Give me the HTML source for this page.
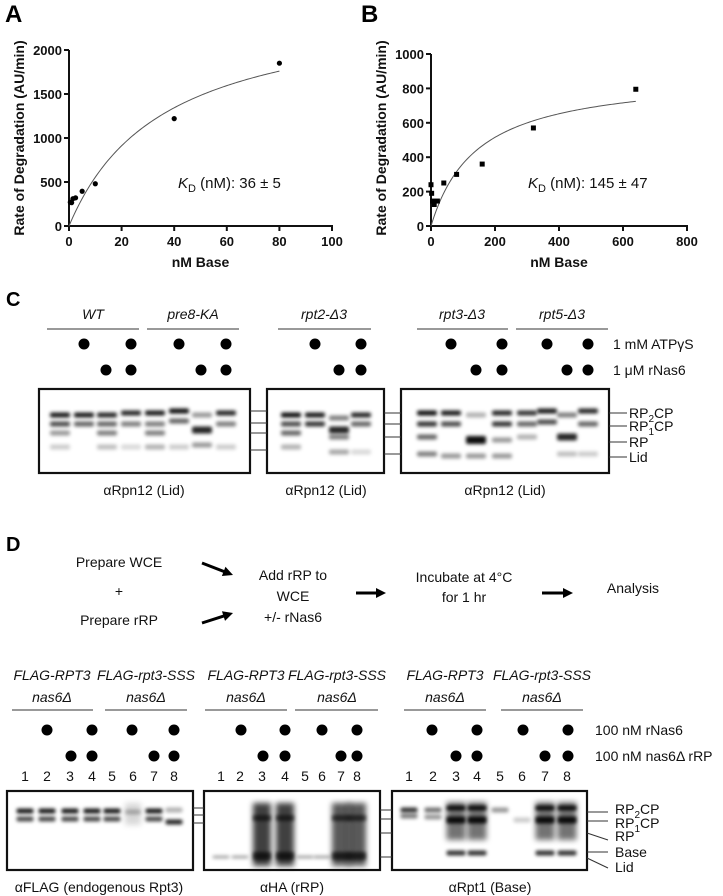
<!DOCTYPE html>
<html><head><meta charset="utf-8"><style>
html,body{margin:0;padding:0;background:#fff;}
svg{display:block;font-family:"Liberation Sans",sans-serif;}
.lbl{font-size:14px;fill:#111;}
.it{font-style:italic;}
.tick{font-size:13px;font-weight:bold;fill:#111;}
</style></head><body>
<svg id="fig" width="723" height="896" viewBox="0 0 723 896">
<defs>
<filter id="blur" filterUnits="userSpaceOnUse" x="0" y="0" width="723" height="896"><feGaussianBlur stdDeviation="1.9"/></filter>
<filter id="blur2" filterUnits="userSpaceOnUse" x="0" y="0" width="723" height="896"><feGaussianBlur stdDeviation="3"/></filter>
</defs>
<g id="panelA"></g>
<g id="panelB"></g>
<g id="panelC"></g>
<g id="panelD"></g>
</svg>
<script>
// ---- Panel A data ----
const aX = [0.5, 1, 1.5, 2.5, 5, 10, 40, 80];
const aY = [270, 265, 310, 320, 395, 480, 1220, 1850];
const aXTicks = [0, 20, 40, 60, 80, 100];
const aYTicks = [0, 500, 1000, 1500, 2000];
const aKD = 36;
const aBmax = 2552;
// ---- Panel B data ----
const bX = [0, 2, 5, 10, 20, 40, 80, 160, 320, 640];
const bY = [240, 190, 145, 125, 145, 250, 300, 360, 570, 795];
const bXTicks = [0, 200, 400, 600, 800];
const bYTicks = [0, 200, 400, 600, 800, 1000];
const bKD = 145;
const bBmax = 889;

const NS = "http://www.w3.org/2000/svg";
function mk(parent, tag, attrs, text){
  const e = document.createElementNS(NS, tag);
  for (const k in attrs) e.setAttribute(k, attrs[k]);
  if (text !== undefined) e.textContent = text;
  parent.appendChild(e);
  return e;
}

function drawChart(g, o){
  const sx = v => o.x0 + (v - o.xmin)/(o.xmax - o.xmin)*(o.x1 - o.x0);
  const sy = v => o.y0 - (v - o.ymin)/(o.ymax - o.ymin)*(o.y0 - o.y1);
  let t = mk(g,'text',{x:o.lx,y:22,'font-size':24,'font-weight':'bold',fill:'#000'},o.letter);
  
  
  let ax = mk(g,'line',{x1:o.x0,y1:o.y0,x2:o.x1+1,y2:o.y0,stroke:'#111','stroke-width':2});
  
  
  let ay = mk(g,'line',{x1:o.x0,y1:o.y0+1,x2:o.x0,y2:o.y1,stroke:'#111','stroke-width':2});
  
  
  o.xt.forEach(v=>{
    mk(g,'line',{x1:sx(v),y1:o.y0,x2:sx(v),y2:o.y0+5,stroke:'#111','stroke-width':2});
    let l = mk(g,'text',{x:sx(v),y:o.y0+20,'text-anchor':'middle',class:'tick'},String(v));
    
    
  });
  o.yt.forEach(v=>{
    mk(g,'line',{x1:o.x0-5,y1:sy(v),x2:o.x0,y2:sy(v),stroke:'#111','stroke-width':2});
    let l = mk(g,'text',{x:o.x0-7,y:sy(v)+5,'text-anchor':'end',class:'tick'},String(v));
    
    
  });
  let xt = mk(g,'text',{x:(o.x0+o.x1)/2,y:267,'text-anchor':'middle','font-size':14,'font-weight':'bold',fill:'#111'},'nM Base');
  
  
  let yt = mk(g,'text',{x:0,y:0,'text-anchor':'middle','font-size':14,'font-weight':'bold',fill:'#111',transform:`translate(${o.ytx},${o.ytc}) rotate(-90)`},'Rate of Degradation  (AU/min)');
  
  
  let d='';
  const xEnd = o.xs[o.xs.length-1];
  for(let i=0;i<=120;i++){
    const xv = xEnd*i/120;
    const yv = o.bmax*xv/(o.kd+xv);
    d += (i?'L':'M')+sx(xv).toFixed(2)+','+sy(yv).toFixed(2);
  }
  let c = mk(g,'path',{d:d,fill:'none',stroke:'#555','stroke-width':1});
  
  
  o.xs.forEach((xv,i)=>{
    let p;
    if(o.square){
      p = mk(g,'rect',{x:sx(xv)-2.5,y:sy(o.ys[i])-2.5,width:5,height:5,fill:'#000'});
    } else {
      p = mk(g,'circle',{cx:sx(xv),cy:sy(o.ys[i]),r:2.6,fill:'#000'});
    }
    
    
  });
  let kd = mk(g,'text',{x:o.kdx,y:188,'font-size':15,fill:'#111'});
  
  
  mk(kd,'tspan',{'font-style':'italic'},'K');
  mk(kd,'tspan',{'font-size':11,dy:4},'D');
  mk(kd,'tspan',{dy:-4},' (nM): '+o.kdtext);
}

drawChart(document.getElementById('panelA'),{letter:'A',lx:5,x0:69,x1:332,y0:226,y1:50,xmin:0,xmax:100,ymin:0,ymax:2000,
  xt:aXTicks,yt:aYTicks,xs:aX,ys:aY,kd:aKD,bmax:aBmax,kdx:178,kdtext:'36 ± 5',ytx:24,ytc:138,square:false});
drawChart(document.getElementById('panelB'),{letter:'B',lx:361,x0:431,x1:687,y0:226,y1:54,xmin:0,xmax:800,ymin:0,ymax:1000,
  xt:bXTicks,yt:bYTicks,xs:bX,ys:bY,kd:bKD,bmax:bBmax,kdx:528,kdtext:'145 ± 47',ytx:386,ytc:138,square:true});

function txt(g,x,y,s,attrs,name){
  const a = Object.assign({x:x,y:y,class:'lbl'},attrs||{});
  const e = mk(g,'text',a,s);
  
  
  return e;
}
function dot(g,x,y,r){
  const e = mk(g,'circle',{cx:x,cy:y,r:r||5.5,fill:'#000'});
  
  
}
function hline(g,x1,x2,y){ mk(g,'line',{x1:x1,x2:x2,y1:y,y2:y,stroke:'#333','stroke-width':1}); }
function box(g,x1,y1,x2,y2,name){
  const e = mk(g,'rect',{x:x1,y:y1,width:x2-x1,height:y2-y1,fill:'none',stroke:'#111','stroke-width':2.2});
  
  
}
function lane(g,x,w,bands){
  bands.forEach(b=>{
    const h = b[2]||5;
    mk(g,'rect',{x:x-w/2,y:b[0]-h/2,width:w,height:h,fill:'#000','fill-opacity':b[1],filter:'url(#blur)',rx:2});
  });
}
function smear(g,x,w,y1,y2,op){
  mk(g,'rect',{x:x-w/2,y:y1,width:w,height:y2-y1,fill:'#000','fill-opacity':op,filter:'url(#blur2)'});
}

const C = document.getElementById('panelC');
txt(C,6,306,'C',{'font-size':20,'font-weight':'bold',class:''},'panel-letter');
[['WT',93,47,139],['pre8-KA',193,147,239],['rpt2-Δ3',324,278,371],['rpt3-Δ3',462,417,508],['rpt5-Δ3',562,516,608]].forEach(a=>{
  txt(C,a[1],319,a[0],{'text-anchor':'middle',class:'lbl it'},'genotype-label');
  hline(C,a[2],a[3],329);
});
[84,131,179,226,315,361,451,502,547,588].forEach(x=>dot(C,x,344));
[106,131,201,226,339,361,476,502,567,588].forEach(x=>dot(C,x,370));
txt(C,613,349,'1 mM ATPγS',{},'condition-label');
txt(C,613,375,'1 μM rNas6',{},'condition-label');
const cLanes = [
 [60,[[415,.9],[424,.7],[433,.4],[447,.2]]],[84,[[415,.9],[424,.6]]],[107,[[415,.85],[424,.6],[433,.5],[447,.25]]],[131,[[413,.85],[424,.5],[447,.15]]],
 [155,[[413,.9],[424,.5],[433,.5],[447,.3]]],[179,[[411,.95],[421,.6],[447,.2]]],[202,[[415,.4],[430,.85,7],[445,.4]]],[226,[[413,.85],[424,.5],[447,.2]]],
 [291,[[415,.95],[424,.7],[433,.6],[447,.3]]],[315,[[415,.9],[424,.8]]],[339,[[418,.5],[430,.85,7],[437,.5],[452,.35]]],[361,[[415,.85],[424,.6],[452,.15]]],
 [427,[[413,.95],[424,.8],[437,.6],[454,.5]]],[451,[[413,.9],[424,.7],[456,.4]]],[476,[[415,.3],[440,.95,8],[456,.4]]],[502,[[413,.85],[424,.8],[440,.4],[456,.4]]],
 [527,[[413,.8],[424,.6],[437,.3]]],[547,[[411,.9],[422,.7]]],[567,[[415,.5],[437,.85,7],[454,.25]]],[588,[[411,.85],[424,.6],[454,.2]]]
];
cLanes.forEach(l=>lane(C,l[0],20,l[1]));
box(C,39,389,250,473,'blot-wt-pre8');
box(C,267,389,384,473,'blot-rpt2');
box(C,401,389,609,473,'blot-rpt3-rpt5');
[411,423,433,450].forEach(y=>hline(C,250,267,y));
[413,424,437,454].forEach(y=>hline(C,384,401,y));
[[413,'RP','2','CP'],[426,'RP','1','CP'],[442,'RP','',''],[457,'Lid','','']].forEach(a=>{
  hline(C,609,627,a[0]);
  const t = txt(C,629,a[0]+5,'',{},'band-label');
  mk(t,'tspan',{},a[1]);
  if(a[2]){ mk(t,'tspan',{'font-size':10,dy:4},a[2]); mk(t,'tspan',{dy:-4},a[3]); }
});
[144,326,505].forEach(x=>txt(C,x,495,'αRpn12 (Lid)',{'text-anchor':'middle'},'antibody-label'));

const D = document.getElementById('panelD');
txt(D,6,551,'D',{'font-size':20,'font-weight':'bold',class:''},'panel-letter');
txt(D,119,567,'Prepare WCE',{'text-anchor':'middle'},'step-label');
txt(D,119,596,'+',{'text-anchor':'middle'},'step-label');
txt(D,119,625,'Prepare rRP',{'text-anchor':'middle'},'step-label');
txt(D,293,580,'Add rRP to',{'text-anchor':'middle'},'step-label');
txt(D,293,601,'WCE',{'text-anchor':'middle'},'step-label');
txt(D,293,622,'+/- rNas6',{'text-anchor':'middle'},'step-label');
txt(D,464,582,'Incubate at 4°C',{'text-anchor':'middle'},'step-label');
txt(D,464,602,'for 1 hr',{'text-anchor':'middle'},'step-label');
txt(D,633,593,'Analysis',{'text-anchor':'middle'},'step-label');
function arrow(x1,y1,x2,y2){
  const ang = Math.atan2(y2-y1,x2-x1);
  mk(D,'line',{x1:x1,y1:y1,x2:x2-7*Math.cos(ang),y2:y2-7*Math.sin(ang),stroke:'#000','stroke-width':3});
  const p=[[x2,y2],[x2-10*Math.cos(ang)+5*Math.sin(ang),y2-10*Math.sin(ang)-5*Math.cos(ang)],[x2-10*Math.cos(ang)-5*Math.sin(ang),y2-10*Math.sin(ang)+5*Math.cos(ang)]];
  const e = mk(D,'polygon',{points:p.map(q=>q.join(',')).join(' '),fill:'#000'});
  
  
}
arrow(202,563,233,575);
arrow(202,623,233,613);
arrow(356,593,386,593);
arrow(542,593,573,593);
[[52,12,93,'FLAG-RPT3'],[146,105,187,'FLAG-rpt3-SSS'],[246,205,287,'FLAG-RPT3'],[337,295,378,'FLAG-rpt3-SSS'],[445,404,486,'FLAG-RPT3'],[542,501,583,'FLAG-rpt3-SSS']].forEach(a=>{
  txt(D,a[0],680,a[3],{'text-anchor':'middle',class:'lbl it'},'genotype-label');
  txt(D,a[0],702,'nas6Δ',{'text-anchor':'middle',class:'lbl it'},'genotype-label');
  hline(D,a[1],a[2],710);
});
[47,92,132,174,241,285,322,357,432,477,523,568].forEach(x=>dot(D,x,730));
[71,92,154,174,263,285,341,357,456,477,545,568].forEach(x=>dot(D,x,756));
txt(D,595,735,'100 nM rNas6',{},'condition-label');
txt(D,595,761,'100 nM nas6Δ rRP',{},'condition-label');
const dL1=[25,47,70,92,112,133,154,174], dL2=[221,240,262,285,305,322,341,357], dL3=[409,433,456,477,500,522,545,567];
[dL1,dL2,dL3].forEach(arr=>arr.forEach((x,i)=>txt(D,x,781,String(i+1),{'text-anchor':'middle'},'lane-number')));
dL1.forEach((x,i)=>{
  if(i===7) lane(D,x,17,[[810,.3],[822,.85]]);
  else if(i===5) { smear(D,x,16,803,825,.15); lane(D,x,16,[[812,.25]]); }
  else lane(D,x,17,[[811,.9],[819,.7]]);
});
dL2.forEach((x,i)=>{
  if([2,3,6,7].includes(i)){ smear(D,x,18,803,866,i>5?0.65:0.75); lane(D,x,18,[[818,.6,6],[856,.7,8]]); }
  else lane(D,x,17,[[857,.35,3]]);
});
dL3.forEach((x,i)=>{
  if([2,3,6,7].includes(i)){ smear(D,x,19,802,840,.55); lane(D,x,19,[[808,.9],[820,.9,7],[853,.8]]); }
  else if(i===0) lane(D,x,17,[[810,.8],[816,.5]]);
  else if(i===1) lane(D,x,17,[[810,.55],[817,.4]]);
  else if(i===4) lane(D,x,17,[[810,.4]]);
  else lane(D,x,17,[[820,.2]]);
});
box(D,7,791,193,870,'blot-aflag');
box(D,204,791,380,870,'blot-aha');
box(D,392,791,587,870,'blot-arpt1');
[808,815,823].forEach(y=>hline(D,193,204,y));
[810,819,833,857].forEach(y=>hline(D,380,392,y));
hline(D,587,608,812); hline(D,587,608,821); hline(D,587,608,852);
mk(D,'line',{x1:587,y1:833,x2:608,y2:840,stroke:'#333','stroke-width':1});
mk(D,'line',{x1:587,y1:858,x2:608,y2:868,stroke:'#333','stroke-width':1});
[[814,'RP','2','CP'],[828,'RP','1','CP'],[841,'RP','',''],[857,'Base','',''],[872,'Lid','','']].forEach(a=>{
  const t = txt(D,615,a[0],'',{},'band-label');
  mk(t,'tspan',{},a[1]);
  if(a[2]){ mk(t,'tspan',{'font-size':10,dy:4},a[2]); mk(t,'tspan',{dy:-4},a[3]); }
});
txt(D,99,892,'αFLAG (endogenous Rpt3)',{'text-anchor':'middle'},'antibody-label');
txt(D,292,892,'αHA (rRP)',{'text-anchor':'middle'},'antibody-label');
txt(D,490,892,'αRpt1 (Base)',{'text-anchor':'middle'},'antibody-label');
</script>
</body></html>
